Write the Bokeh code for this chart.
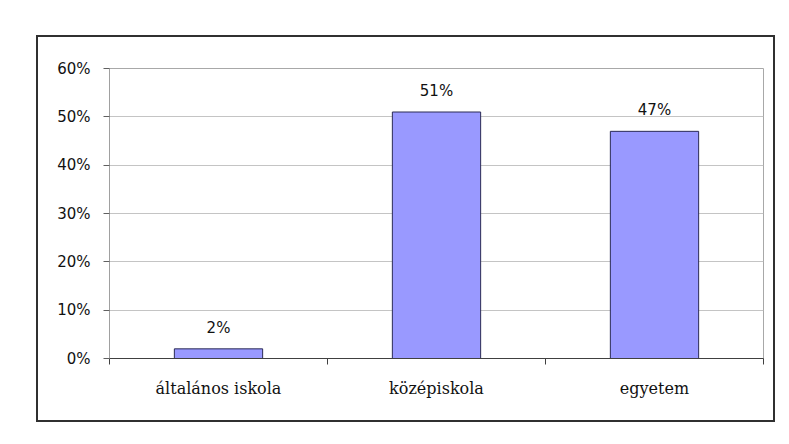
from bokeh.plotting import figure
from bokeh.models import Range1d, FixedTicker, NumeralTickFormatter, ColumnDataSource, LabelSet
from bokeh.core.properties import value
from bokeh.embed import file_html
from bokeh.resources import INLINE

categories = ["általános iskola", "középiskola", "egyetem"]
values = [0.02, 0.51, 0.47]
y_ticks = [0.0, 0.1, 0.2, 0.3, 0.4, 0.5, 0.6]

positions = [i + 0.5 for i in range(len(categories))]
labels = [f"{round(v * 100)}%" for v in values]

src = ColumnDataSource(dict(x=positions, top=values, label=labels))

p = figure(width=739, height=387, output_backend="svg", toolbar_location=None,
           x_range=Range1d(0, len(categories)), y_range=Range1d(0, 0.6),
           min_border_left=71, min_border_right=14, min_border_top=31, min_border_bottom=66,
           background_fill_color="white", border_fill_color="white")
p.margin = (35, 0, 0, 36)
p.styles = {"border": "2px solid #303030"}

p.vbar(x="x", top="top", width=0.405, bottom=0, source=src,
       fill_color="#9999ff", line_color="#2a2a55", line_width=1)

p.add_layout(LabelSet(x="x", y="top", text="label", source=src, y_offset=12,
                      text_align="center", text_baseline="bottom",
                      text_font=value("DejaVu Sans"), text_font_size=value("15px"),
                      text_color="#111111"))

p.outline_line_color = "#a8a8a8"
p.outline_line_width = 1

p.xgrid.visible = False
p.ygrid.grid_line_color = "#c4c4c4"
p.ygrid.ticker = FixedTicker(ticks=y_ticks)

p.yaxis.ticker = FixedTicker(ticks=y_ticks)
p.yaxis.formatter = NumeralTickFormatter(format="0%")
p.yaxis.major_label_text_font = "DejaVu Sans"
p.yaxis.major_label_text_font_size = "15px"
p.yaxis.major_label_text_color = "#111111"
p.yaxis.axis_line_color = "#a0a0a0"
p.yaxis.major_tick_line_color = "#606060"
p.yaxis.major_tick_out = 6
p.yaxis.major_tick_in = 0
p.yaxis.minor_tick_line_color = None
p.yaxis.major_label_standoff = 13

p.xaxis.ticker = FixedTicker(ticks=positions, minor_ticks=list(range(len(categories) + 1)))
p.xaxis.major_label_overrides = {pos: c for pos, c in zip(positions, categories)}
p.xaxis.major_label_text_font = "DejaVu Serif"
p.xaxis.major_label_text_font_size = "16px"
p.xaxis.major_label_text_color = "#111111"
p.xaxis.axis_line_color = "#404040"
p.xaxis.major_tick_line_color = None
p.xaxis.minor_tick_line_color = "#404040"
p.xaxis.minor_tick_out = 6
p.xaxis.minor_tick_in = 0
p.xaxis.major_label_standoff = 14

open("out.html", "w").write(file_html(p, INLINE))
